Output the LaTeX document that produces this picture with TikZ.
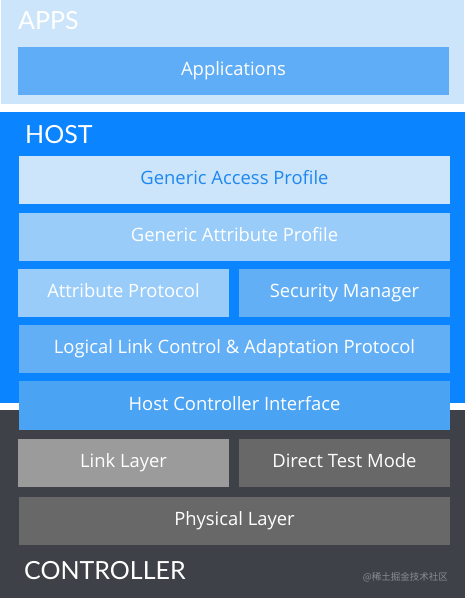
\documentclass[tikz,border=0pt]{standalone}
\usepackage{fontspec}
\setmainfont{Lato}
\newfontfamily\boxfont{Open Sans}
\newfontfamily\cjkfont{Noto Sans CJK SC}
\definecolor{appsbg}{HTML}{CDE5FB}
\definecolor{appbox}{HTML}{5FADF6}
\definecolor{hostbg}{HTML}{0A84FF}
\definecolor{gapbox}{HTML}{CCE5FB}
\definecolor{gaptext}{HTML}{1E88F0}
\definecolor{lightblue}{HTML}{99CCF9}
\definecolor{midblue}{HTML}{62AFF6}
\definecolor{hcibox}{HTML}{4BA3F3}
\definecolor{ctrlbg}{HTML}{3E4248}
\definecolor{llbox}{HTML}{9B9B9B}
\definecolor{darkgray}{HTML}{686868}
\definecolor{wmark}{HTML}{8A8D92}
\tikzset{
  layer/.style={anchor=north west, inner sep=0pt, outer sep=0pt, text=white,
    font=\boxfont\fontsize{18.4}{21}\selectfont, align=center,
    text height=13pt, text depth=4pt},
  title/.style={anchor=base west, inner sep=0pt, text=white,
    font=\fontsize{25}{29}\selectfont},
}
\begin{document}
\begin{tikzpicture}[x=1pt,y=-1pt]
\useasboundingbox (0,0) rectangle (465,598);
\fill[white] (0,0) rectangle (465,598);
% backgrounds
\fill[appsbg] (1,0) rectangle (464,104);
\fill[hostbg] (0,112) rectangle (465,403);
\fill[ctrlbg] (0,410) rectangle (465,598);
% titles
\node[title] (apps) at (18,29) {APPS};
\node[title] (host) at (25,143) {HOST};
\node[title] (ctrl) at (24,579) {CONTROLLER};
% layers
\node[layer, fill=appbox, minimum width=431, minimum height=48] (app) at (18,47) {Applications};
\node[layer, fill=gapbox, text=gaptext, minimum width=431, minimum height=48] (gap) at (19,156) {Generic Access Profile};
\node[layer, fill=lightblue, minimum width=431, minimum height=48] (gatt) at (19,213) {Generic Attribute Profile};
\node[layer, fill=lightblue, minimum width=211, minimum height=48] (att) at (18,269) {Attribute Protocol};
\node[layer, fill=midblue, minimum width=211, minimum height=48] (sm) at (239,269) {Security Manager};
\node[layer, fill=midblue, minimum width=431, minimum height=48] (l2cap) at (19,325) {Logical Link Control \& Adaptation Protocol};
\node[layer, fill=hcibox, minimum width=431, minimum height=49] (hci) at (19,381) {Host Controller Interface};
\node[layer, fill=llbox, minimum width=211, minimum height=48] (ll) at (18,439) {Link Layer};
\node[layer, fill=darkgray, minimum width=211, minimum height=48] (dtm) at (239,439) {Direct Test Mode};
\node[layer, fill=darkgray, minimum width=431, minimum height=48] (phy) at (19,497) {Physical Layer};
% watermark
\node[anchor=base east, inner sep=0pt, text=wmark, font=\cjkfont\fontsize{9.5}{11}\selectfont] (wm) at (448,580) {@稀土掘金技术社区};
\end{tikzpicture}
\end{document}
